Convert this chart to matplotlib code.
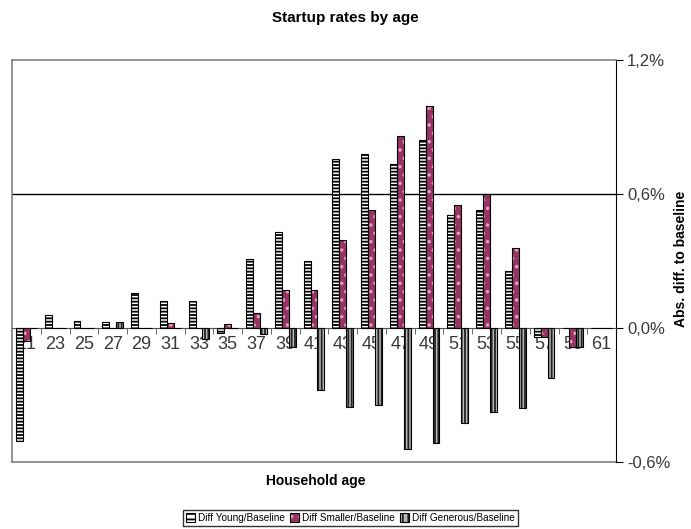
"""Startup rates by age: absolute difference of each scenario to the baseline."""
import numpy as np
import matplotlib
matplotlib.use("Agg")
import matplotlib.pyplot as plt
from matplotlib.patches import Patch
from matplotlib.ticker import FixedLocator

plt.rcParams["font.family"] = ["Liberation Sans", "DejaVu Sans"]
plt.rcParams["hatch.linewidth"] = 1.3

# household age groups (every second year)
ages = [21, 23, 25, 27, 29, 31, 33, 35, 37, 39, 41, 43, 45, 47, 49, 51, 53, 55, 57, 59, 61]
# abs. difference to baseline, in percent
diff_young = [-0.507, 0.057, 0.030, 0.026, 0.156, 0.122, 0.120, -0.024, 0.310, 0.430, 0.300,
              0.755, 0.780, 0.734, 0.840, 0.505, 0.530, 0.255, -0.040, 0.0, 0.0]
diff_smaller = [-0.060, 0.0, 0.0, 0.0, 0.0, 0.024, 0.0, 0.020, 0.065, 0.170, 0.170,
                0.395, 0.527, 0.860, 0.995, 0.550, 0.600, 0.360, -0.040, -0.085, 0.0]
diff_generous = [0.0, 0.0, 0.0, 0.026, 0.0, 0.0, -0.050, 0.0, -0.028, -0.087, -0.277,
                 -0.355, -0.346, -0.542, -0.514, -0.425, -0.376, -0.360, -0.226, -0.085, 0.0]
series_names = ["Diff Young/Baseline", "Diff Smaller/Baseline", "Diff Generous/Baseline"]
yticks = [-0.6, 0.0, 0.6, 1.2]
ytick_labels = ["-0,6%", "0,0%", "0,6%", "1,2%"]

# (face, hatch, legend hatch, hatch colour) per series
STYLES = [("white", "-----", "---", "black"),
          ("#993366", "..", "..", "#d9a3c0"),
          ("#b8b8b8", "|||||", "|||", "#222222")]
W = 0.24

fig = plt.figure(figsize=(6.91, 5.29), dpi=100)
ax = fig.add_axes([0.0174, 0.1267, 0.8741, 0.7599])

x = np.arange(len(ages))
handles = []
for k, (vals, (face, hatch, lhatch, hcol)) in enumerate(
        zip([diff_young, diff_smaller, diff_generous], STYLES)):
    pos = x + (k - 1) * W
    # hatch colour follows edgecolor, so draw fill+hatch first and the black outline on top
    ax.bar(pos, vals, W, color=face, hatch=hatch, edgecolor=hcol, linewidth=0, zorder=3)
    ax.bar(pos, vals, W, fill=False, edgecolor="black", linewidth=0.8, zorder=4)
    handles.append((Patch(facecolor=face, hatch=lhatch, edgecolor=hcol, linewidth=0),
                    Patch(fill=False, edgecolor="black", linewidth=0.8)))

ax.set_xlim(-0.5, len(ages) - 0.5)
ax.set_ylim(-0.6, 1.2)
ax.axhline(0.6, color="black", linewidth=1.0, zorder=1)
ax.axhline(-0.6, color="#808080", linewidth=1.2, clip_on=False, zorder=1)

# category axis sits on the zero line, labels just under it
ax.spines["bottom"].set_position(("data", 0))
ax.spines["bottom"].set_color("#505050")
ax.spines["left"].set_color("#808080")
ax.spines["top"].set_color("#808080")
ax.spines["left"].set_linewidth(1.2)
ax.spines["top"].set_linewidth(1.2)
ax.spines["right"].set_color("black")
ax.set_xticks(x)
ax.set_xticklabels([str(a) for a in ages], fontsize=13, color="#3a3a3a")
ax.tick_params(axis="x", which="major", length=0, pad=6)
ax.xaxis.set_minor_locator(FixedLocator(x[1:] - 0.5))
ax.tick_params(axis="x", which="minor", length=4, direction="out", color="#505050")

ax.yaxis.tick_right()
ax.set_yticks(yticks)
ax.set_yticklabels(ytick_labels, fontsize=12, color="#3a3a3a")
ax.tick_params(axis="y", length=5, direction="out", pad=3, left=False)

fig.text(0.5, 1 - 18 / 529, "Startup rates by age", ha="center", va="center",
         fontsize=11, fontweight="bold")
fig.text(0.457, 1 - 481 / 529, "Household age", ha="center", va="center",
         fontsize=10, fontweight="bold")
fig.text(0.985, 0.51, "Abs. diff. to baseline", ha="center", va="center",
         rotation=90, fontsize=10, fontweight="bold")

fig.legend(handles, series_names, loc="center", bbox_to_anchor=(0.507, 1 - 518 / 529),
           ncol=3, fontsize=7.2, frameon=True, fancybox=False, edgecolor="black",
           handlelength=0.9, handleheight=0.9, handletextpad=0.3, columnspacing=0.5,
           borderpad=0.3, borderaxespad=0)

fig.savefig("out.png", dpi=100)
